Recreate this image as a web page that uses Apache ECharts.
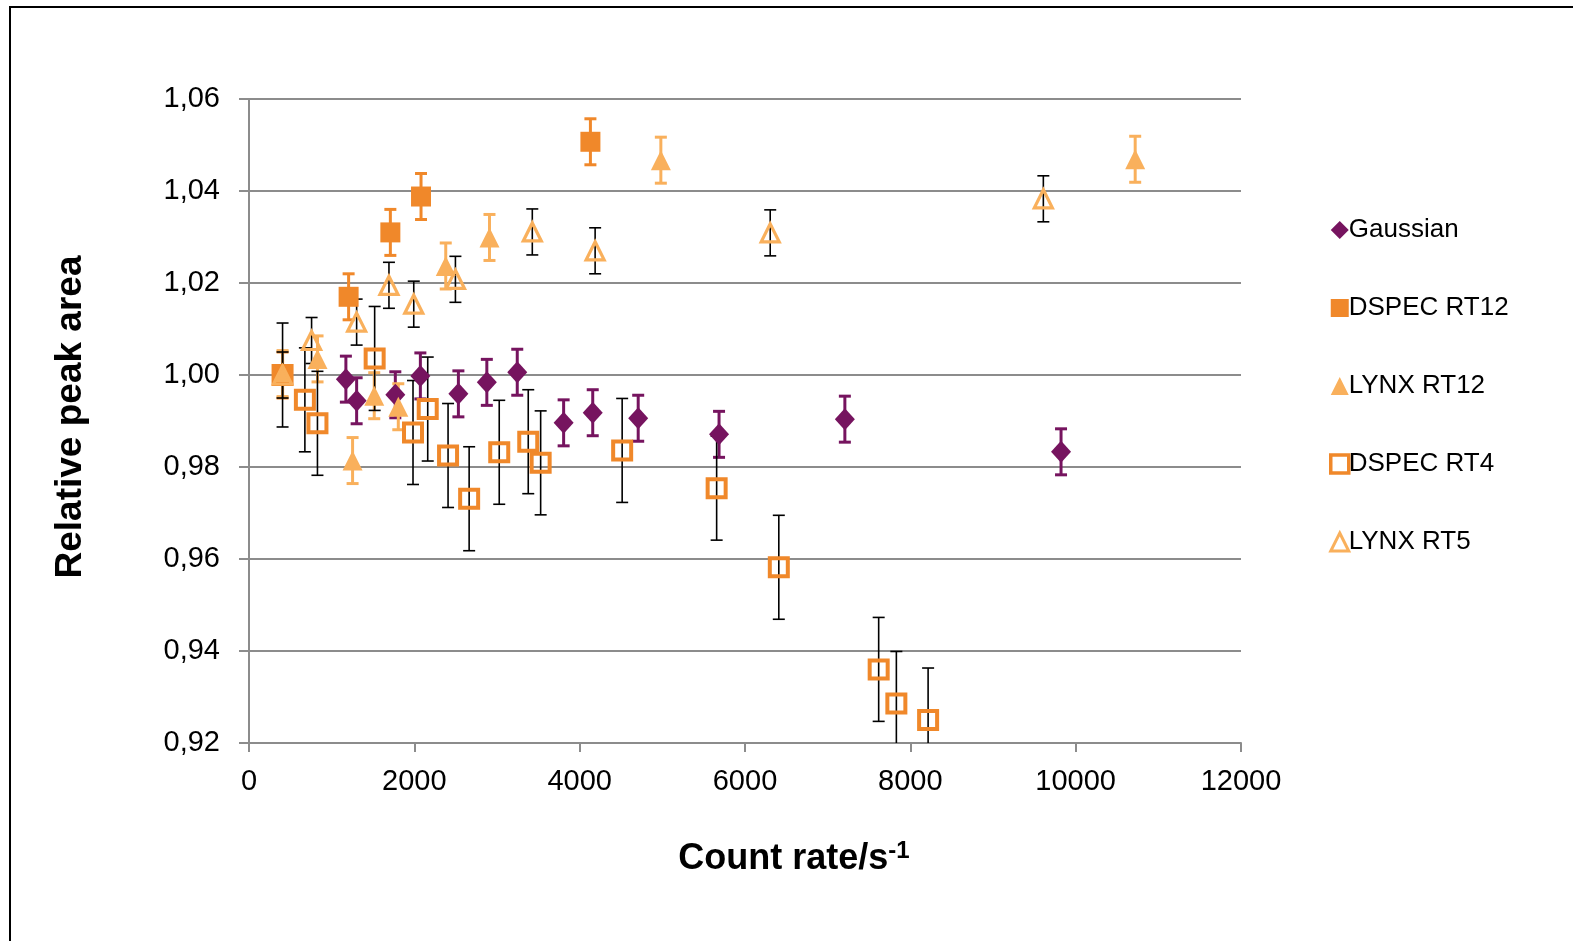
<!DOCTYPE html>
<html>
<head>
<meta charset="utf-8">
<title>Relative peak area vs count rate</title>
<script src="https://cdn.jsdelivr.net/npm/echarts@6/dist/echarts.min.js"></script>
<style>
  html, body { margin: 0; padding: 0; background: #fff; }
  #chart { width: 1573px; height: 941px; }
</style>
</head>
<body>
<div id="chart"></div>
<script>
// Count rate (s^-1), relative peak area and its uncertainty per method
const gaussX = [1172, 1302, 1770, 2073, 2533, 2877, 3245, 3806, 4158, 4708, 5686, 7208, 9823];
const gaussY = [0.9991, 0.9944, 0.9957, 0.9998, 0.9959, 0.9984, 1.0006, 0.9896, 0.9918, 0.9906, 0.9871, 0.9904, 0.9833];
const gaussErr = [0.005, 0.005, 0.005, 0.005, 0.005, 0.005, 0.005, 0.005, 0.005, 0.005, 0.005, 0.005, 0.005];

const dspec12X = [406, 1205, 1710, 2081, 4130];
const dspec12Y = [1.0000, 1.0170, 1.0310, 1.0388, 1.0507];
const dspec12Err = [0.005, 0.005, 0.005, 0.005, 0.005];

const lynx12X = [406, 829, 1253, 1515, 1806, 2380, 2909, 4982, 10720];
const lynx12Y = [1.0003, 1.0035, 0.9814, 0.9955, 0.9931, 1.0237, 1.0299, 1.0467, 1.0469];
const lynx12Err = [0.005, 0.005, 0.005, 0.005, 0.005, 0.005, 0.005, 0.005, 0.005];

const dspec4X = [406, 676, 828, 1520, 1984, 2162, 2408, 2663, 3027, 3378, 3528, 4514, 5657, 6409, 7617, 7831, 8215];
const dspec4Y = [1.0000, 0.9946, 0.9895, 1.0036, 0.9875, 0.9926, 0.9825, 0.9731, 0.9832, 0.9855, 0.9809, 0.9836, 0.9754, 0.9582, 0.9360, 0.9286, 0.9250];
const dspec4Err = [0.0113, 0.0113, 0.0113, 0.0113, 0.0113, 0.0113, 0.0113, 0.0113, 0.0113, 0.0113, 0.0113, 0.0113, 0.0113, 0.0113, 0.0113, 0.0113, 0.0113];

const lynx5X = [406, 757, 1302, 1693, 1993, 2497, 3427, 4187, 6305, 9609];
const lynx5Y = [1.0000, 1.0075, 1.0115, 1.0195, 1.0154, 1.0208, 1.0311, 1.0270, 1.0309, 1.0383];
const lynx5Err = [0.005, 0.005, 0.005, 0.005, 0.005, 0.005, 0.005, 0.005, 0.005, 0.005];

const xTicks = { min: 0, max: 12000, interval: 2000 };
const yTicks = { min: 0.92, max: 1.06, interval: 0.02 };

const PURPLE = '#76145F';
const ORANGE = '#F0882A';
const LIGHT = '#F9B05C';
const FONT = '"Liberation Sans", Arial, Helvetica, sans-serif';

function zip(xs, ys, es) {
  return xs.map((x, i) => es ? [x, ys[i], es[i]] : [x, ys[i]]);
}

// I-shaped error bar drawn through the axes' coordinate system
function errorBars(name, xs, ys, es, color, width, cap) {
  return {
    type: 'custom',
    name: name,
    clip: true,
    z: 1,
    silent: true,
    encode: { x: 0, y: 1 },
    data: zip(xs, ys, es),
    renderItem: function (params, api) {
      const x = api.value(0), y = api.value(1), e = api.value(2);
      const top = api.coord([x, y + e]);
      const bot = api.coord([x, y - e]);
      const hw = cap / 2;
      const st = { stroke: color, lineWidth: width };
      return {
        type: 'group',
        children: [
          { type: 'line', shape: { x1: top[0], y1: top[1], x2: bot[0], y2: bot[1] }, style: st },
          { type: 'line', shape: { x1: top[0] - hw, y1: top[1], x2: top[0] + hw, y2: top[1] }, style: st },
          { type: 'line', shape: { x1: bot[0] - hw, y1: bot[1], x2: bot[0] + hw, y2: bot[1] }, style: st }
        ]
      };
    }
  };
}

function markers(name, xs, ys, symbol, size, itemStyle) {
  return {
    type: 'scatter',
    name: name,
    z: 3,
    symbol: symbol,
    symbolSize: size,
    itemStyle: Object.assign({ opacity: 1 }, itemStyle),
    emphasis: { disabled: true },
    data: zip(xs, ys)
  };
}

const chart = echarts.init(document.getElementById('chart'), null, { renderer: 'canvas' });

chart.setOption({
  backgroundColor: '#fff',
  animation: false,
  textStyle: { fontFamily: FONT, color: '#000' },
  graphic: [{
    type: 'rect',
    z: -10,
    silent: true,
    shape: { x: 10, y: 7, width: 1700, height: 1100 },
    style: { fill: 'none', stroke: '#000', lineWidth: 2 }
  }],
  grid: { left: 249, right: 332, top: 99, bottom: 198 },
  legend: {
    orient: 'vertical',
    left: 1324,
    top: 210,
    itemWidth: 18,
    itemHeight: 18,
    itemGap: 48,
    selectedMode: false,
    textStyle: { fontFamily: FONT, fontSize: 26, color: '#000', padding: [0, 0, 0, -5], lineHeight: 30 },
    data: [
      { name: 'Gaussian', icon: 'diamond', itemStyle: { color: PURPLE, borderWidth: 0, opacity: 1 } },
      { name: 'DSPEC RT12', icon: 'rect', itemStyle: { color: ORANGE, borderWidth: 0, opacity: 1 } },
      { name: 'LYNX RT12', icon: 'triangle', itemStyle: { color: LIGHT, borderWidth: 0, opacity: 1 } },
      { name: 'DSPEC RT4', icon: 'rect', itemStyle: { color: 'rgba(255,255,255,0)', borderColor: ORANGE, borderWidth: 3.5, opacity: 1 } },
      { name: 'LYNX RT5', icon: 'triangle', itemStyle: { color: 'rgba(255,255,255,0)', borderColor: LIGHT, borderWidth: 3, opacity: 1 } }
    ]
  },
  xAxis: {
    type: 'value',
    min: xTicks.min,
    max: xTicks.max,
    interval: xTicks.interval,
    name: 'Count rate/s{sup|-1}',
    nameLocation: 'middle',
    nameGap: 96,
    nameTextStyle: {
      fontFamily: FONT, fontSize: 36, fontWeight: 'bold', color: '#000',
      padding: [0, 0, 0, 98],
      rich: {
        sup: { fontFamily: FONT, fontSize: 24, fontWeight: 'bold', color: '#000', padding: [0, 0, 16, 0] }
      }
    },
    axisLine: { show: true, onZero: false, lineStyle: { color: '#8C8C8C', width: 2 } },
    axisTick: { show: true, length: 9, lineStyle: { color: '#8C8C8C', width: 2 } },
    axisLabel: {
      fontFamily: FONT, fontSize: 29, color: '#000', margin: 24,
      formatter: v => String(v)
    },
    splitLine: { show: false }
  },
  yAxis: {
    type: 'value',
    min: yTicks.min,
    max: yTicks.max,
    interval: yTicks.interval,
    name: 'Relative peak area',
    nameLocation: 'middle',
    nameGap: 160,
    nameRotate: 90,
    nameTextStyle: { fontFamily: FONT, fontSize: 37, fontWeight: 'bold', color: '#000', padding: [0, 0, 0, 8] },
    axisLine: { show: true, onZero: false, lineStyle: { color: '#8C8C8C', width: 2 } },
    axisTick: { show: true, length: 10, lineStyle: { color: '#8C8C8C', width: 2 } },
    axisLabel: {
      fontFamily: FONT, fontSize: 29, color: '#000', margin: 29,
      formatter: v => v.toFixed(2).replace('.', ',')
    },
    splitLine: { show: true, lineStyle: { color: '#8C8C8C', width: 2 } }
  },
  series: [
    errorBars('Gaussian error', gaussX, gaussY, gaussErr, PURPLE, 3, 12),
    errorBars('DSPEC RT12 error', dspec12X, dspec12Y, dspec12Err, ORANGE, 3, 12),
    errorBars('LYNX RT12 error', lynx12X, lynx12Y, lynx12Err, LIGHT, 3, 12),
    errorBars('DSPEC RT4 error', dspec4X, dspec4Y, dspec4Err, '#000', 1.6, 12),
    errorBars('LYNX RT5 error', lynx5X, lynx5Y, lynx5Err, '#000', 1.6, 12),
    markers('Gaussian', gaussX, gaussY, 'diamond', [20, 22], { color: PURPLE }),
    markers('DSPEC RT12', dspec12X, dspec12Y, 'rect', 20, { color: ORANGE }),
    markers('LYNX RT12', lynx12X, lynx12Y, 'triangle', 20, { color: LIGHT }),
    markers('DSPEC RT4', dspec4X, dspec4Y, 'rect', 18, { color: 'rgba(255,255,255,0)', borderColor: ORANGE, borderWidth: 4 }),
    markers('LYNX RT5', lynx5X, lynx5Y, 'triangle', 18, { color: 'rgba(255,255,255,0)', borderColor: LIGHT, borderWidth: 3.2 })
  ]
});
</script>
</body>
</html>
